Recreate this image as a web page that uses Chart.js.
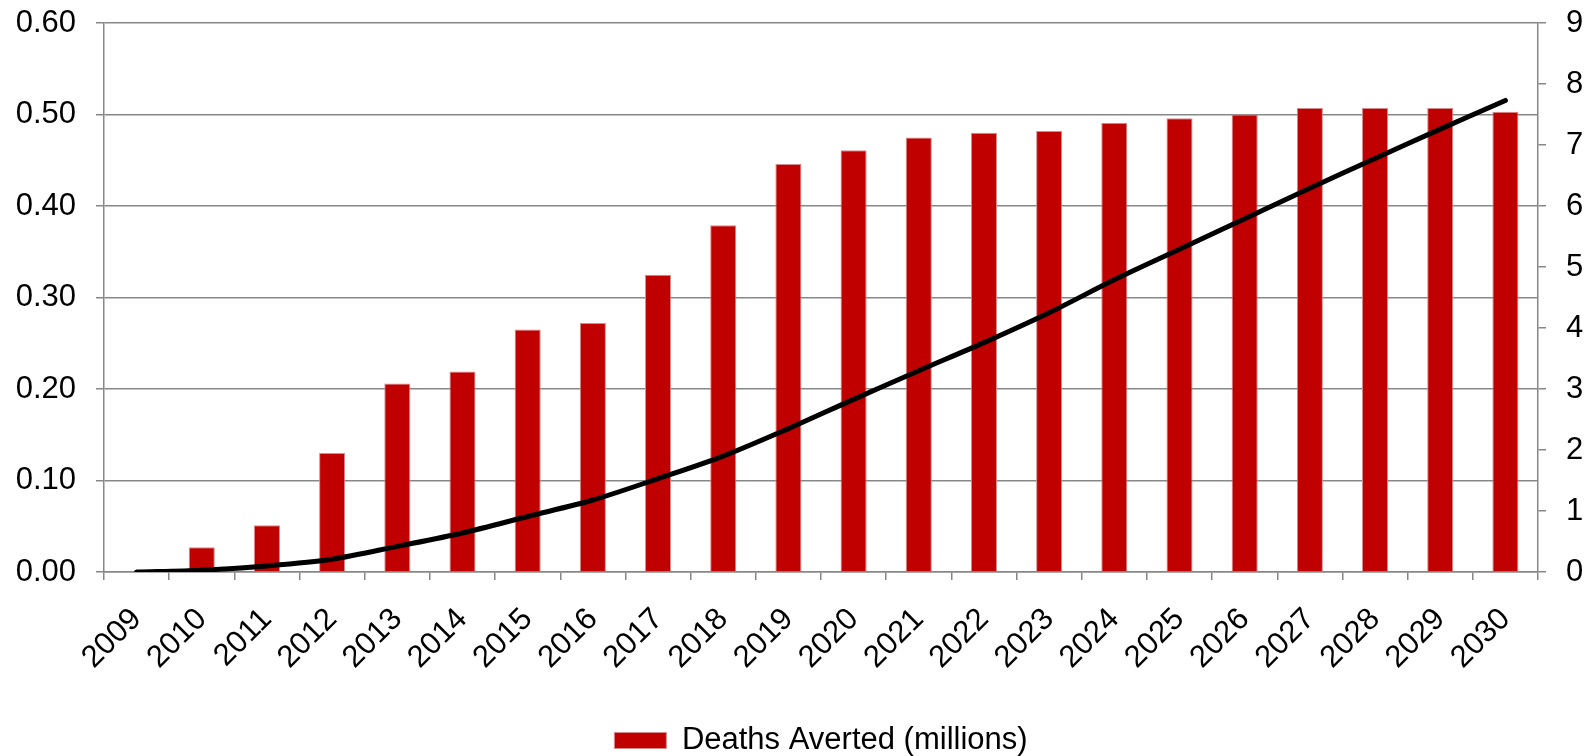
<!DOCTYPE html>
<html>
<head>
<meta charset="utf-8">
<script src="https://cdn.jsdelivr.net/npm/chart.js@4"></script>
<style>
  html, body { margin: 0; padding: 0; background: #fff; }
  #wrap { width: 1587px; height: 756px; }
</style>
</head>
<body>
<div id="wrap"><canvas id="chartCanvas" width="1587" height="756"></canvas></div>
<script>
// Chart data
const years = ['2009', '2010', '2011', '2012', '2013', '2014', '2015', '2016', '2017', '2018', '2019',
  '2020', '2021', '2022', '2023', '2024', '2025', '2026', '2027', '2028', '2029', '2030'];
const deathsAverted = [null, 0.027, 0.051, 0.130, 0.206, 0.219, 0.265, 0.272, 0.325, 0.379, 0.446,
  0.461, 0.475, 0.480, 0.482, 0.491, 0.496, 0.500, 0.507, 0.507, 0.507, 0.503];
const cumulative = [0, 0.03, 0.10, 0.21, 0.42, 0.64, 0.91, 1.18, 1.53, 1.90, 2.35,
  2.83, 3.30, 3.76, 4.25, 4.79, 5.29, 5.79, 6.29, 6.78, 7.26, 7.73];
const leftTicks = [0, 0.1, 0.2, 0.3, 0.4, 0.5, 0.6];
const rightTicks = [0, 1, 2, 3, 4, 5, 6, 7, 8, 9];

const FONT = "'Liberation Sans', Arial, sans-serif";
const GRID = '#878787';

// keep the y axes from reserving extra room above/below the plot
function fixWidth(w) {
  return scale => {
    scale.width = w;
    scale.paddingTop = 0;
    scale.paddingBottom = 0;
  };
}

function renderChart() {
  const ctx = document.getElementById('chartCanvas').getContext('2d');
  new Chart(ctx, {
    type: 'bar',
    data: {
      labels: years,
      datasets: [
        {
          type: 'line',
          label: 'Cumulative',
          data: cumulative,
          yAxisID: 'y1',
          borderColor: '#000',
          borderWidth: 5,
          borderCapStyle: 'round',
          tension: 0.3,
          pointRadius: 0,
          order: 0
        },
        {
          label: 'Deaths Averted (millions)',
          data: deathsAverted,
          yAxisID: 'y',
          backgroundColor: '#C00000',
          borderColor: '#d98a8a',
          borderWidth: 1,
          barPercentage: 0.4,
          categoryPercentage: 1,
          order: 1
        }
      ]
    },
    options: {
      responsive: false,
      animation: false,
      layout: { padding: { top: 23, left: 0, right: 0, bottom: -10 } },
      plugins: {
        tooltip: { enabled: false },
        legend: {
          display: true,
          position: 'bottom',
          fullSize: false,
          labels: {
            color: '#000',
            font: { family: FONT, size: 31 },
            boxWidth: 52,
            boxHeight: 16,
            padding: 0,
            filter: item => item.datasetIndex === 1
          }
        }
      },
      scales: {
        x: {
          offset: true,
          grid: { display: true, drawOnChartArea: false, drawTicks: true, tickLength: 8, color: GRID, lineWidth: 1.5, offset: true },
          border: { display: true, color: GRID, width: 1.5 },
          ticks: {
            autoSkip: false,
            minRotation: 45,
            maxRotation: 45,
            padding: 32,
            color: '#000',
            font: { family: FONT, size: 31, lineHeight: 0.2 }
          },
          afterFit: scale => { scale.height = 153; }
        },
        y: {
          position: 'left',
          min: 0,
          max: 0.6,
          afterBuildTicks: scale => { scale.ticks = leftTicks.map(v => ({ value: v })); },
          grid: { color: GRID, lineWidth: 1.5, tickLength: 8 },
          border: { display: true, color: GRID, width: 1.5 },
          ticks: {
            padding: 20,
            color: '#000',
            font: { family: FONT, size: 31 },
            callback: v => Number(v).toFixed(2)
          },
          afterFit: fixWidth(104)
        },
        y1: {
          position: 'right',
          min: 0,
          max: 9,
          afterBuildTicks: scale => { scale.ticks = rightTicks.map(v => ({ value: v })); },
          grid: { drawOnChartArea: false, color: GRID, lineWidth: 1.5, tickLength: 8 },
          border: { display: true, color: GRID, width: 1.5 },
          ticks: {
            padding: 20,
            color: '#000',
            font: { family: FONT, size: 31 },
            callback: v => String(v)
          },
          afterFit: fixWidth(49)
        }
      }
    }
  });
}

window.onload = function() {
  renderChart();
};
</script>
</body>
</html>
